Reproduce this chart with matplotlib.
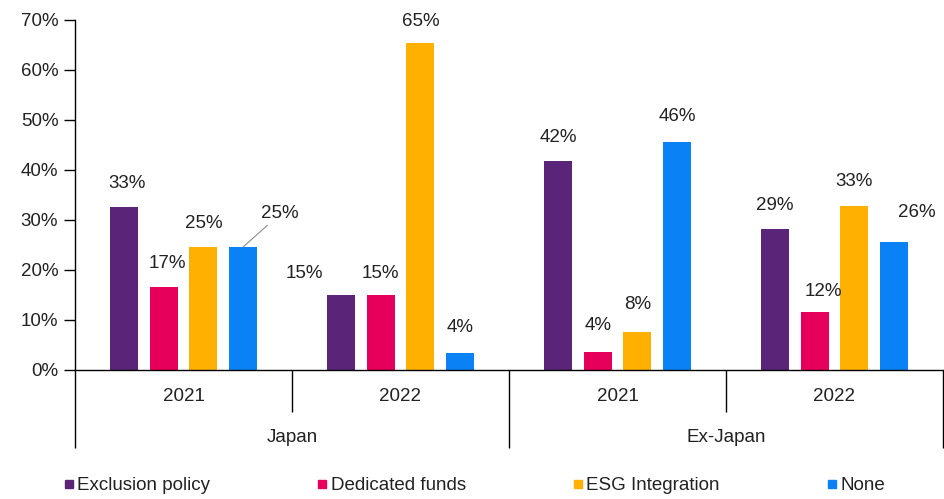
import numpy as np
import matplotlib.pyplot as plt
from matplotlib.lines import Line2D

plt.rcParams['font.family'] = ['Liberation Sans', 'DejaVu Sans']

regions = ["Japan", "Ex-Japan"]
years = ["2021", "2022", "2021", "2022"]
series = ["Exclusion policy", "Dedicated funds", "ESG Integration", "None"]
colors = ["#5A2479", "#E6005C", "#FFB000", "#0A82F5"]

# bar heights (%) per series, groups: Japan 2021, Japan 2022, Ex-Japan 2021, Ex-Japan 2022
exclusion = [32.6, 15.0, 41.8, 28.2]
dedicated = [16.6, 15.0, 3.7, 11.7]
esg = [24.6, 65.4, 7.7, 32.8]
none = [24.6, 3.5, 45.7, 25.7]
values = [exclusion, dedicated, esg, none]

labels = [["33%", "15%", "42%", "29%"],
          ["17%", "15%", "4%", "12%"],
          ["25%", "65%", "8%", "33%"],
          ["25%", "4%", "46%", "26%"]]

# label offsets in pixels (dx, dy) from top of each bar
offsets = [[(3, 24), (-37, 22), (0, 24), (0, 24)],
           [(4, 23), (0, 22), (0, 26), (9, 20)],
           [(0, 24), (0, 22), (0, 27), (0, 25)],
           [(37, 33), (0, 25), (0, 25), (23, 29)]]

txt = "#222222"
fs = 13.5

fig = plt.figure(figsize=(9.45, 4.99), dpi=100)
ax = fig.add_axes([75 / 945, 1 - 370 / 499, (943 - 75) / 945, 350 / 499])

x = np.arange(len(years))
step = 0.183
width = 0.13
for i, vals in enumerate(values):
    pos = x + (i - 1.5) * step
    ax.bar(pos, vals, width, color=colors[i], zorder=2)
    for j, v in enumerate(vals):
        dx, dy = offsets[i][j]
        if i == 3 and j == 0:
            ax.annotate(labels[i][j], xy=(pos[j], v), xytext=(dx, dy),
                        textcoords="offset pixels", ha="center", va="center",
                        fontsize=fs, color=txt,
                        arrowprops=dict(arrowstyle="-", color="#8c8c8c", lw=0.8,
                                        shrinkA=0, shrinkB=0))
        else:
            ax.annotate(labels[i][j], xy=(pos[j], v), xytext=(dx, dy),
                        textcoords="offset pixels", ha="center", va="center",
                        fontsize=fs, color=txt)

ax.set_xlim(-0.5, 3.5)
ax.set_ylim(0, 70)
ax.set_yticks(np.arange(0, 71, 10))
ax.set_yticklabels([f"{t}%" for t in range(0, 71, 10)])
ax.tick_params(axis="y", length=8, width=1, labelsize=fs, labelcolor=txt, pad=4)
ax.set_xticks([])
for s in ["top", "right"]:
    ax.spines[s].set_visible(False)
ax.spines["left"].set_linewidth(1)
ax.spines["bottom"].set_linewidth(1)

# category separators
tr = ax.get_xaxis_transform()
ax.vlines([0.5, 2.5], -0.12, 0, transform=tr, color="black", lw=1, clip_on=False)
ax.vlines([-0.5, 1.5, 3.5], -0.223, 0, transform=tr, color="black", lw=1, clip_on=False)

for j, yr in enumerate(years):
    ax.text(x[j], -0.077, yr, transform=tr, ha="center", va="center",
            fontsize=fs, color=txt)
for k, reg in enumerate(regions):
    ax.text(0.5 + 2 * k, -0.192, reg, transform=tr, ha="center", va="center",
            fontsize=fs, color=txt)

handles = [Line2D([], [], marker="s", linestyle="none", markersize=6,
                  markerfacecolor=c, markeredgecolor=c) for c in colors]
fig.legend(handles, series, loc="center left", ncol=4, mode="expand",
           bbox_to_anchor=(63 / 945, 1 - 486 / 499, 822 / 945, 0.001),
           frameon=False, fontsize=fs, handlelength=0.6, handletextpad=0.15,
           borderaxespad=0, borderpad=0, labelcolor=txt)

fig.savefig("out.png", dpi=100)
